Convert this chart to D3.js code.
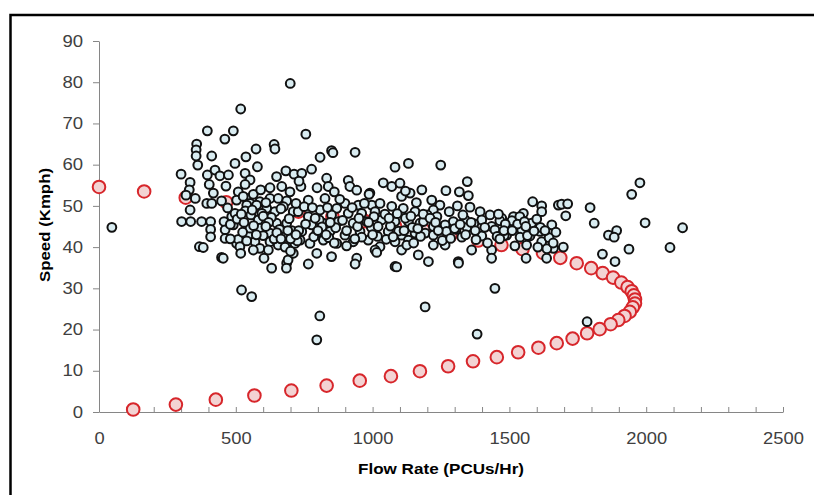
<!DOCTYPE html>
<html>
<head>
<meta charset="utf-8">
<script src="https://cdn.jsdelivr.net/npm/d3@7/dist/d3.min.js"></script>
<style>
  html, body { margin: 0; padding: 0; background: #fff; }
  svg { display: block; }
</style>
</head>
<body>
<svg id="chart" width="814" height="495"></svg>
<script>
// ---------- DATA ----------
const xTickValues = [0,100,200,300,400,500,600,700,800,900,1000,1100,1200,1300,1400,1500,1600,1700,1800,1900,2000,2100,2200,2300,2400,2500];
const xTickLabels = [0,500,1000,1500,2000,2500];
const yTickValues = [0,10,20,30,40,50,60,70,80,90];

const xTitle = "Flow Rate (PCUs/Hr)";
const yTitle = "Speed (Kmph)";

// fitted speed-flow curve (red circles)
const modelFlow = [0,165,317,465,596,729,853,972,1082,1188,1284,1386,1471,1548,1623,1686,1746,1799,1841,1879,1909,1932,1947,1955,1959,1959,1951,1940,1921,1898,1870,1830,1784,1731,1673,1606,1532,1454,1367,1276,1173,1067,953,832,703,568,427,281,125];
const modelSpeed = [54.6,53.5,52.0,50.9,49.7,48.6,47.4,46.3,45.1,44.0,42.8,41.6,40.5,39.5,38.6,37.4,36.1,34.9,33.7,32.6,31.4,30.3,29.3,28.3,27.3,26.3,25.4,24.3,23.3,22.3,21.3,20.1,19.1,17.8,16.7,15.6,14.5,13.3,12.3,11.1,9.9,8.7,7.6,6.4,5.2,4.0,3.0,1.8,0.6];

// observed data (black circles)
const obsFlow = [
47,699,518,756,396,491,460,357,355,355,361,412,574,640,643,850,855,936,537,497,579,808,777,1082,1131,1249,
300,333,330,318,396,403,424,442,473,534,552,534,509,464,418,352,394,412,448,503,540,564,591,625,649,683,713,668,698,625,655,686,588,527,552,
333,302,335,375,408,408,408,367,381,448,457,461,461,491,485,503,509,515,518,546,552,582,588,570,588,564,603,631,625,625,619,655,674,686,649,686,691,710,716,521,558,540,576,613,643,674,710,497,
741,738,765,832,838,860,911,917,942,990,1039,1070,1100,1137,1106,1180,826,808,869,899,948,997,1027,1070,1112,1155,1009,960,911,850,765,728,777,820,875,929,978,1033,1082,1131,1173,741,796,844,899,954,1009,1057,1106,1155,735,771,820,869,929,984,1027,1082,1131,796,850,942,936,765,1009,1015,1082,1106,1167,
1268,1317,1346,1350,1310,1356,1585,1618,1618,1679,1216,1246,1222,1393,1429,1472,1515,1551,1581,1655,1612,1545,1502,1435,1399,1338,1295,1265,1222,1186,1192,1222,1270,1326,1399,1447,1490,1539,1575,1618,1520,1563,1661,1561,1636,1222,1265,1362,1435,1435,1313,1204,1447,1192,
1977,1947,1691,1713,1706,1795,1810,1996,2133,1862,1892,1883,1937,2087,1840,1886,1697,
1382,1784,807,796,1314,1088,685,454,1509,1538,1566,1613,1604,1465,1481,731,797,987,1120,1637,
470,480,505,525,535,555,565,595,600,610,630,640,660,665,695,705,720,725,750,755,780,785,805,815,835,840,865,880,890,905,925,945,960,970,995,1005,1018,1045,1050,1065,1090,1095,1120,1125,1145,1160,1175,1200,1235,1255,1280,1285,1305,1330,1345,1370,1378,1410,1420,1455,1460,1485,1530,1555,1590,1600,1645,1670,
520,560,600,620,690,700,730,540,650,680,575,480,530,610,665,700,720,790,800,830,845,860,905,935,950,985,1000,1020,1060,1075,1115,1140,1150,1165,1185,1210,1230,1240,1300,1320,1340,1360,1375,1465,1480,1510,1560,1630,1660
];
const obsSpeed = [
44.8,79.7,73.5,67.4,68.2,68.2,66.2,65.0,63.6,62.1,59.9,62.1,63.8,64.9,63.8,63.4,62.9,63.0,61.9,60.3,59.5,61.8,58.9,59.4,60.3,59.9,
57.7,55.7,53.9,52.6,57.5,55.2,58.7,57.3,57.5,57.9,56.3,55.2,53.4,54.8,53.1,51.8,50.6,50.6,51.2,51.4,51.8,52.8,53.9,54.4,57.1,58.5,57.7,54.7,53.4,51.8,51.8,51.2,51.0,52.3,50.6,
49.0,46.2,46.2,46.2,46.2,44.3,42.5,40.1,39.9,37.5,46.2,44.2,42.1,45.4,47.4,40.9,41.9,40.1,38.5,42.9,44.6,46.6,44.6,41.3,39.7,39.3,37.3,34.9,43.4,41.3,39.3,40.5,42.5,45.8,45.8,36.1,36.9,38.5,40.9,29.6,28.0,50.2,50.2,49.4,48.6,49.8,48.6,48.2,
57.9,54.7,51.4,56.7,54.7,53.4,56.2,54.7,53.8,53.1,55.6,54.7,55.5,53.1,52.3,53.9,51.8,49.0,49.4,50.6,50.2,50.2,50.6,49.9,49.4,48.6,48.6,48.2,48.2,47.8,47.4,48.6,45.4,45.8,46.2,45.8,46.2,46.6,46.2,46.2,45.8,43.8,43.4,43.8,42.9,43.8,43.4,43.8,42.9,43.4,41.7,40.9,41.7,40.9,41.3,41.7,40.1,41.3,41.7,38.5,37.7,37.3,35.9,35.9,39.3,38.7,35.3,39.3,38.1,
53.7,53.4,55.9,52.5,50.0,49.7,51.0,50.0,48.6,50.2,51.4,50.2,49.0,48.6,47.8,47.0,47.4,48.2,45.8,45.4,43.8,44.2,45.4,45.0,46.6,46.6,46.2,45.4,45.0,46.2,43.4,42.9,43.8,42.4,42.7,44.2,42.9,42.4,42.7,41.3,40.3,40.5,39.7,37.3,37.3,40.5,40.5,39.3,39.3,37.3,36.5,36.5,30.0,25.5,
55.6,52.8,50.4,50.5,47.6,49.6,45.8,45.9,44.7,42.9,44.0,42.4,39.5,39.9,38.3,36.5,40.0,
18.9,21.9,23.3,17.5,36.1,35.2,34.9,37.3,46.4,47.4,42.8,44.8,40.0,46.4,42.8,56.0,54.4,52.8,53.6,39.6,
49.5,45.5,46.8,43.6,48.8,47.8,45.2,48.2,42.8,50.8,47.2,42.0,44.3,49.3,46.9,44.0,50.6,41.5,49.8,45.6,49.6,42.5,46.6,44.9,49.6,42.3,44.7,51.6,46.5,40.3,49.6,45.0,42.4,50.6,44.8,47.4,42.6,48.0,41.9,45.1,48.1,43.9,47.0,40.5,44.8,50.8,42.6,47.8,47.4,41.6,48.6,42.1,44.3,47.8,44.8,45.7,41.8,44.8,41.0,42.6,48.0,45.6,45.6,46.2,43.9,46.8,42.3,43.6,
48,49,47.5,46,44,42,44,41.5,43.5,40,43,42,46,45,42,39,43,47,44,43,46,41,44,42,47,46,43,45,47,42.5,44,47.5,41,44.5,48,47,46,44,44.5,45.5,43,46,44,42,44,44,45,44,41
];

// ---------- DRAW ----------
const svg = d3.select("#chart");
svg.append("rect").attr("width", 814).attr("height", 495).attr("fill", "#fff");

const x = d3.scaleLinear().domain([0, 2500]).range([99, 783]);
const y = d3.scaleLinear().domain([0, 90]).range([412, 41]);

const axisColor = "#868686";
const labelColor = "#404040";
const tickFont = "'Liberation Sans', Arial, sans-serif";

// Y axis
const gy = svg.append("g").attr("transform", "translate(99,0)")
  .call(d3.axisLeft(y).tickValues(yTickValues).tickSize(6).tickPadding(10).tickSizeOuter(0));
gy.select(".domain").attr("stroke", axisColor);
gy.selectAll(".tick line").attr("stroke", axisColor);
gy.selectAll(".tick text")
  .attr("fill", labelColor)
  .style("font-family", tickFont)
  .style("font-size", "16px")
  .attr("textLength", d => String(d).length * 10.3)
  .attr("lengthAdjust", "spacingAndGlyphs");

// X axis
const gx = svg.append("g").attr("transform", "translate(0,412)")
  .call(d3.axisBottom(x).tickValues(xTickValues)
    .tickFormat(d => xTickLabels.includes(d) ? String(d) : "")
    .tickSizeInner(-5).tickSizeOuter(0).tickPadding(21));
gx.select(".domain").attr("stroke", axisColor);
gx.selectAll(".tick line").attr("stroke", axisColor);
gx.selectAll(".tick text")
  .attr("fill", labelColor)
  .style("font-family", tickFont)
  .style("font-size", "16px")
  .each(function(d) {
    if (xTickLabels.includes(d)) {
      d3.select(this).attr("textLength", String(d).length * 10.2).attr("lengthAdjust", "spacingAndGlyphs");
    }
  });

// Model curve (red circles) - drawn below observations
svg.append("g").selectAll("circle")
  .data(modelFlow.map((f, i) => [f, modelSpeed[i]]))
  .join("circle")
  .attr("cx", d => x(d[0]))
  .attr("cy", d => y(d[1]))
  .attr("r", 6.3)
  .attr("fill", "#f3d3d3")
  .attr("stroke", "#d7262b")
  .attr("stroke-width", 2);

// Observations (black circles)
svg.append("g").selectAll("circle")
  .data(obsFlow.map((f, i) => [f, obsSpeed[i]]))
  .join("circle")
  .attr("cx", d => x(d[0]))
  .attr("cy", d => y(d[1]))
  .attr("r", 4.4)
  .attr("fill", "#d9ecf1")
  .attr("stroke", "#111")
  .attr("stroke-width", 2);

// Axis titles
svg.append("text")
  .attr("x", 441).attr("y", 474)
  .attr("text-anchor", "middle")
  .style("font-family", "'Liberation Sans', Arial, sans-serif")
  .style("font-weight", "bold")
  .style("font-size", "15px")
  .attr("fill", "#000")
  .attr("textLength", 166).attr("lengthAdjust", "spacingAndGlyphs")
  .text(xTitle);

svg.append("text")
  .attr("transform", "translate(50,225) rotate(-90)")
  .attr("text-anchor", "middle")
  .style("font-family", "'Liberation Sans', Arial, sans-serif")
  .style("font-weight", "bold")
  .style("font-size", "14px")
  .attr("fill", "#000")
  .attr("textLength", 114).attr("lengthAdjust", "spacingAndGlyphs")
  .text(yTitle);

// Outer frame (left and top edges visible)
svg.append("path")
  .attr("d", "M10.5,495 V15 H814")
  .attr("fill", "none")
  .attr("stroke", "#000")
  .attr("stroke-width", 2.5);
</script>
</body>
</html>
